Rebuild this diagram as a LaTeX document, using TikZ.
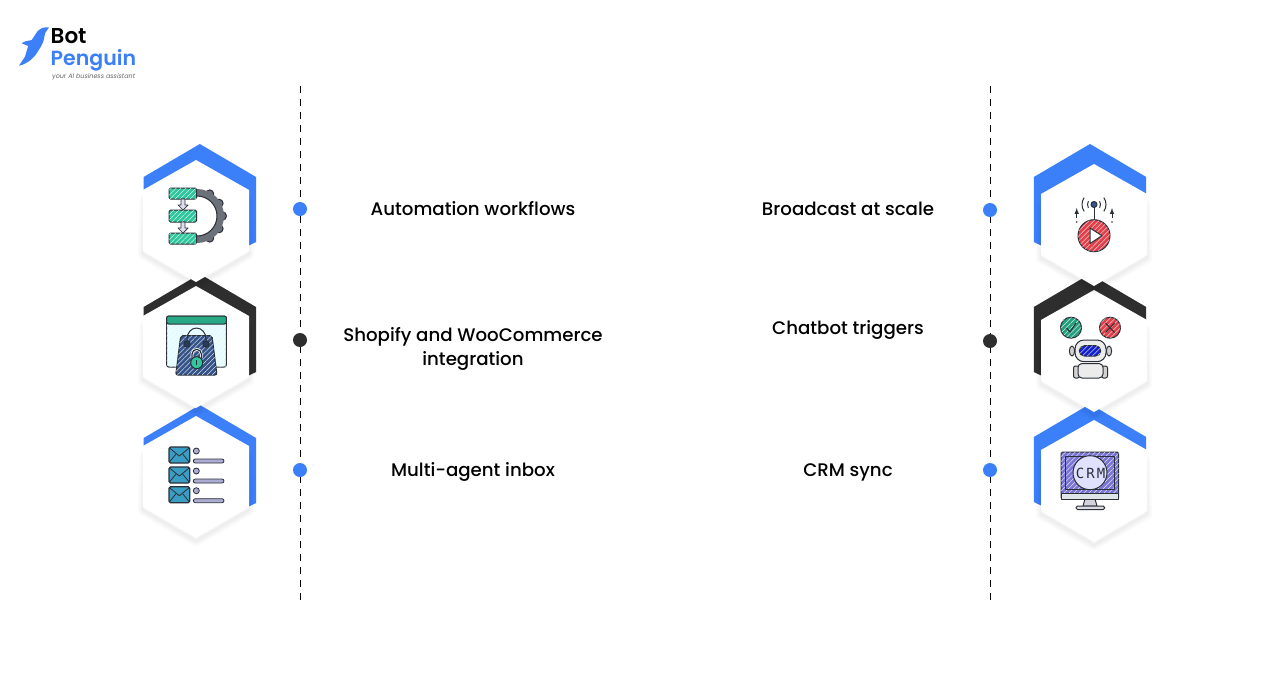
\documentclass[tikz,border=0pt]{standalone}
\usepackage{fontspec}
\usepackage{tikz}
\usetikzlibrary{patterns.meta}
\setmainfont{Poppins}
\newfontfamily\labelfont{Poppins Medium}
\newfontfamily\logofont{Poppins SemiBold}
\newfontfamily\crmfont[LetterSpace=15]{DejaVu Sans Mono}
\definecolor{hexblue}{HTML}{3B7FF9}
\definecolor{hexdark}{HTML}{2E2E2E}
\definecolor{inkline}{HTML}{2B3038}
\definecolor{flowgreen}{HTML}{2FC79D}
\definecolor{geargrey}{HTML}{6C7079}
\definecolor{bagblue}{HTML}{35558A}
\definecolor{mailblue}{HTML}{3A9DC4}
\definecolor{playred}{HTML}{E0404A}
\definecolor{crmpurple}{HTML}{7C75D8}
\tikzset{
  dotnode/.style={circle,minimum size=14pt,inner sep=0pt,fill=#1},
  tasklabel/.style={anchor=base,font=\labelfont\fontsize{18.2}{24}\selectfont,text=black,inner sep=0pt},
  guideline/.style={black,line width=1pt,dash pattern=on 7pt off 6pt},
  inked/.style={draw=inkline,line width=1pt,line join=round},
  hatched/.style={postaction={pattern={Lines[angle=45,distance=3.5pt,line width=0.35pt]},pattern color=white}}
}
% back hexagon: centre x, top y, colour
\newcommand{\hexback}[3]{
  \fill [#3] (#1-56.2,#2+33) -- (#1,#2) -- (#1+56.2,#2+33) -- (#1+56.2,#2+98)
    -- (#1,#2+125) -- (#1-56.2,#2+98) -- cycle;
}
% white face with soft shadow: centre x, top y
\newcommand{\hexface}[2]{
  \foreach \w in {1,3,...,11}
    \draw [black,opacity=0.012,line width=\w pt,line join=round,fill=none]
      (#1-51,#2+40) -- (#1,#2+20) -- (#1+51,#2+40) -- (#1+53,#2+94)
      -- (#1,#2+125) -- (#1-53,#2+94) -- cycle;
  \fill [white] (#1-53,#2+30) -- (#1,#2) -- (#1+53,#2+30) -- (#1+53,#2+91)
    -- (#1,#2+122) -- (#1-53,#2+91) -- cycle;
}
\begin{document}
\begin{tikzpicture}[x=1pt,y=-1pt]
\useasboundingbox (0,0) rectangle (1288,686);
\fill [white] (0,0) rectangle (1288,686);

% logo
\fill [hexblue] (49,27.3) .. controls (45,27) and (42,28) .. (41.7,28.3)
  .. controls (38,30) and (36,33) .. (35,35) -- (31.7,40)
  .. controls (28,41) and (24,41) .. (21.7,43.3) -- (28.3,46)
  .. controls (27,50) and (26,53) .. (25,56.7) -- (19,65.7)
  .. controls (23,65) and (26,63) .. (28.3,61.7)
  .. controls (32,59) and (35,56) .. (36.7,53.3)
  .. controls (40,48) and (42,45) .. (43.3,41.7)
  .. controls (44,38) and (45,35) .. (45,33.3) -- cycle;
\node (logobot) [anchor=base west,inner sep=0pt,font=\logofont\fontsize{21.5}{24}\selectfont] at (50.5,43) {Bot};
\node (logopenguin) [anchor=base west,inner sep=0pt,text=hexblue,font=\logofont\fontsize{20.5}{24}\selectfont] at (50.5,65) {Penguin};
\node (logotag) [anchor=base west,inner sep=0pt,text=black!60,font=\itshape\fontsize{6.4}{8}\selectfont] at (52,78.5) {your AI business assistant};

% guide lines
\coordinate (lefttop) at (300,86);
\coordinate (leftend) at (300,600);
\coordinate (righttop) at (990,86);
\coordinate (rightend) at (990,600);
\draw [guideline] (lefttop) -- (leftend);
\draw [guideline] (righttop) -- (rightend);

% hexagons, lowest first
\hexback{199.85}{405}{hexblue}
\hexface{196}{416}
\hexback{199.85}{274}{hexdark}
\hexface{196}{286}
\hexback{199.85}{144}{hexblue}
\hexface{196}{160}
\hexback{1090}{404}{hexblue}
\hexface{1094}{420}
\hexback{1090}{274}{hexdark}
\hexface{1094}{290}
\hexback{1090}{144}{hexblue}
\hexface{1094}{164}

% dots
\node (dotflow) [dotnode=hexblue] at (300,209) {};
\node (dotshop) [dotnode=hexdark] at (300,340) {};
\node (dotinbox) [dotnode=hexblue] at (300,470) {};
\node (dotcast) [dotnode=hexblue] at (990,210) {};
\node (dottrig) [dotnode=hexdark] at (990,341) {};
\node (dotcrm) [dotnode=hexblue] at (990,470) {};

% labels
\node (flowlabel) [tasklabel] at (473,215) {Automation workflows};
\node (shoplabel) [tasklabel] at (473,341) {Shopify and WooCommerce};
\node (shoplabeltwo) [tasklabel] at (473,365) {integration};
\node (inboxlabel) [tasklabel] at (473,476) {Multi-agent inbox};
\node (castlabel) [tasklabel] at (848,215) {Broadcast at scale};
\node (triglabel) [tasklabel] at (848,334) {Chatbot triggers};
\node (crmlabel) [tasklabel] at (848,476) {CRM sync};

% workflow icon
\foreach \a in {-60,-30,0,30,60}
  \draw [inked,fill=geargrey] (197,216) ++(\a:25.5) circle (4);
\fill [geargrey,even odd rule] (197,189) arc (-90:90:27) -- (197,236) arc (90:-90:20) -- cycle;
\draw [inked] (197,196) arc (-90:90:20);
\draw [inked,fill=flowgreen,hatched,rounded corners=1.5pt] (169,188) rectangle (196.7,199);
\draw [inked,fill=flowgreen,hatched,rounded corners=1.5pt] (169,210) rectangle (196.7,222);
\draw [inked,fill=flowgreen,hatched,rounded corners=1.5pt] (169,233) rectangle (196.7,244);
\foreach \y in {199,222}
  \draw [inked,line width=0.7pt,fill=cyan!12!blue!12!white] (181,\y) -- (185,\y) -- (185,\y+6)
    -- (188,\y+6) -- (183,\y+11) -- (178,\y+6) -- (181,\y+6) -- cycle;

% shop icon
\draw [inked,fill=blue!10!cyan!10!white,hatched,rounded corners=2pt] (166.7,316) rectangle (226.3,367);
\draw [inked,fill=flowgreen!85!black,rounded corners=2pt] (166.7,316) rectangle (226.3,324);
\draw [inked,fill=bagblue,hatched,rounded corners=2pt] (180.7,335.7) -- (212,335.7) -- (217,375) -- (175.7,375) -- cycle;
\draw [inked] (187,344) -- (187,339) arc (180:360:9.5 and 11) -- (206,344);
\draw [inked,fill=bagblue!70!black] (187,344) circle (3.2);
\draw [inked,fill=bagblue!70!black] (206,344) circle (3.2);
\draw [draw=white,line width=2.6pt] (192,358) -- (192,354) arc (180:360:4.7) -- (201.4,358);
\draw [inked,line width=1.2pt] (192,358) -- (192,354) arc (180:360:4.7) -- (201.4,358);
\draw [inked,fill=flowgreen] (196.7,362.7) circle (6);
\fill [inkline] (196.2,360) rectangle (197.2,365);

% inbox icon
\foreach \y in {447,467,486.7} {
  \draw [inked,line width=1.2pt,fill=mailblue,rounded corners=1.5pt] (169,\y) rectangle (189.7,\y+16);
  \draw [inked,line width=0.8pt] (169.5,\y+1) -- (179.3,\y+9) -- (189.2,\y+1);
  \draw [inked,line width=0.8pt] (169.5,\y+15) -- (176,\y+7);
  \draw [inked,line width=0.8pt] (189.2,\y+15) -- (182.6,\y+7);
  \draw [inked,line width=0.8pt,fill=gray!70!blue!50!white] (196.3,\y+4) circle (3);
  \draw [inked,line width=0.8pt,fill=gray!70!blue!50!white,rounded corners=2pt] (193.3,\y+12) rectangle (224,\y+16);
}

% broadcast icon
\draw [inked] (1094,205) -- (1094,220);
\draw [inked,fill=bagblue] (1094,204.5) circle (3);
\draw [inked] (1094,204.5) ++(150:6.5) arc (150:210:6.5);
\draw [inked] (1094,204.5) ++(-30:6.5) arc (-30:30:6.5);
\draw [inked] (1094,204.5) ++(145:12) arc (145:215:12);
\draw [inked] (1094,204.5) ++(-35:12) arc (-35:35:12);
\draw [inked,-latex] (1076.7,218) -- (1076.7,208);
\draw [inked,-latex] (1112,218) -- (1112,208);
\fill [inkline] (1076.7,222) circle (0.9);
\fill [inkline] (1112,222) circle (0.9);
\draw [inked,fill=playred,hatched] (1094,235.7) circle (16);
\draw [inked,fill=white] (1090,228) -- (1102,235.7) -- (1090,243.5) -- cycle;

% robot icon
\draw [inked,fill=flowgreen!80!black,hatched] (1071,327.7) circle (10.5);
\draw [inked] (1066.5,328) -- (1070,332) -- (1076,323);
\draw [inked,fill=playred,hatched] (1110,327.7) circle (10.5);
\draw [inked] (1105.5,323) -- (1114.5,332.5);
\draw [inked] (1114.5,323) -- (1105.5,332.5);
\draw [inked,fill=gray!35] (1072,351) ellipse (2.6 and 5);
\draw [inked,fill=gray!35] (1109,351) ellipse (2.6 and 5);
\draw [inked,fill=gray!15,rounded corners=9pt] (1075,340) rectangle (1106,361.7);
\draw [inked,fill=blue!60!bagblue,hatched,rounded corners=5pt] (1079.3,345.7) rectangle (1100.7,356);
\draw [inked,fill=gray!35,rounded corners=2pt] (1073.5,366) rectangle (1079.5,378);
\draw [inked,fill=gray!35,rounded corners=2pt] (1101.5,366) rectangle (1107.5,378);
\draw [inked,fill=gray!15,rounded corners=4pt] (1078,363.5) rectangle (1103,378);

% crm icon
\draw [inked,fill=blue!15!gray!30] (1085,499) -- (1095,499) -- (1097,506) -- (1083,506) -- cycle;
\draw [inked,fill=blue!10!gray!25,rounded corners=1.5pt] (1076,506) rectangle (1104.7,509.5);
\draw [inked,fill=crmpurple,hatched,rounded corners=1.5pt] (1061,452) rectangle (1118.7,499);
\draw [inked,fill=cyan!15!gray!25] (1061,493) rectangle (1118.7,499);
\draw [inked] (1065.7,456.7) rectangle (1114.7,489);
\draw [inked,fill=blue!12!white] (1090,472.7) circle (17);
\node (crmtext) [inner sep=0pt,text=inkline,font=\crmfont\fontsize{14}{16}\selectfont] at (1090.5,473) {CRM};
\end{tikzpicture}
\end{document}
